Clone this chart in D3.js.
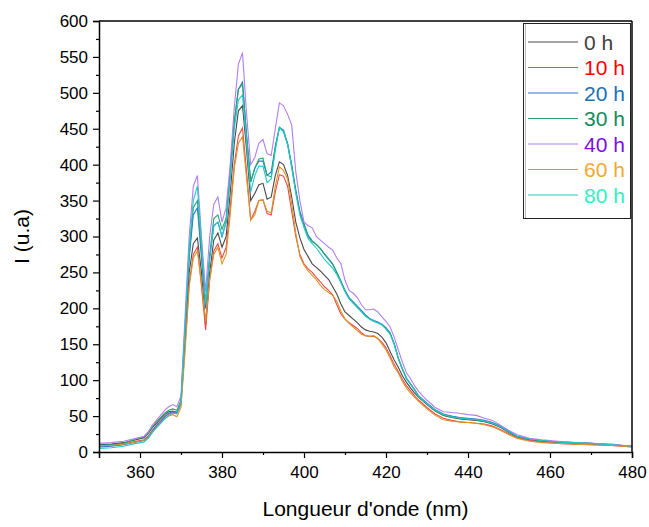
<!DOCTYPE html>
<html><head><meta charset="utf-8">
<script src="https://cdn.jsdelivr.net/npm/d3@7"></script>
<style>body{margin:0;background:#fff}svg{display:block;font-family:"Liberation Sans",Arial,sans-serif}</style>
</head><body><svg id="c" width="649" height="527"></svg>
<script>
const wavelength = [350,353,356,359,361,362,363,364,365,366,367,368,369,370,371,372,373,374,375,376,377,378,379,380,381,382,383,384,385,386,387,388,389,390,391,392,393,394,395,396,397,398,399,400,401,402,403,404,405,406,407,408,409,410,411,412,413,414,415,416,417,418,419,420,421,422,423,424,425,426,427,428,430,432,434,436,438,440,442,444,446,448,450,452,455,458,462,466,470,475,480];
const seriesNames = ["0 h","10 h","20 h","30 h","40 h","60 h","80 h"];
const h0  = [10,11,13,17,20,26,34,40,46,52,56,57,55,68,160,250,290,298,250,177,250,295,305,285,300,360,430,475,482,420,350,360,372,374,352,355,385,404,400,385,355,320,298,282,272,262,257,252,246,240,230,220,206,195,190,185,180,174,170,168,167,165,160,152,140,128,118,106,97,89,82,76,66,57,51,48,46,45,44,42,39,34,27,21,17,15,13,12,11,10,8];
const h10 = [8,9,11,15,17,22,30,37,43,49,53,55,54,66,150,235,275,285,230,170,240,280,290,270,285,340,400,440,451,390,323,335,350,351,332,330,362,386,384,370,335,300,275,262,255,250,243,237,230,225,219,205,192,185,180,176,172,166,162,161,161,158,153,145,134,122,112,101,92,85,78,72,62,53,47,44,42,41,40,39,36,31,25,20,16,14,12,11,10,9,7];
const h20 = [7,8,10,14,16,21,29,36,42,49,54,56,55,70,170,270,330,340,270,200,270,315,320,300,320,390,460,505,515,440,376,395,405,405,385,390,425,452,448,430,400,365,335,318,302,294,289,283,276,269,262,250,238,225,215,209,203,197,191,186,183,181,178,173,166,151,131,116,103,95,87,78,68,59,53,50,48,47,46,44,41,36,29,22,18,16,14,13,12,10,8];
const h30 = [9,10,12,18,21,27,35,42,48,54,58,60,58,72,175,275,340,350,280,205,275,325,330,310,325,390,460,505,512,440,376,395,408,409,385,383,425,452,446,428,398,362,333,316,300,293,289,283,275,268,261,250,237,224,214,208,202,196,190,185,182,180,177,172,165,150,130,115,102,94,86,77,67,58,52,49,47,46,45,43,40,35,28,22,18,16,14,13,12,10,8];
const h40 = [12,13,15,19,22,28,37,44,51,58,63,66,63,78,190,300,370,385,300,223,300,345,355,320,340,400,480,540,556,470,400,410,430,435,415,413,450,486,482,470,455,390,350,320,315,312,300,295,290,285,281,270,262,239,225,221,215,205,198,198,199,195,188,182,174,160,142,125,110,102,92,84,72,62,56,55,54,52,51,47,44,37,30,24,19,17,15,13,12,11,8];
const h60 = [9,9,11,14,16,20,28,34,40,46,50,52,49,62,140,230,270,280,235,181,240,275,285,262,275,330,395,430,439,380,323,330,350,351,335,333,370,397,392,380,345,305,272,260,252,246,240,232,226,222,218,210,196,185,179,174,169,164,162,161,162,158,150,142,131,118,110,98,89,82,76,70,60,51,45,43,42,41,40,38,35,30,24,19,15,13,12,11,10,9,7];
const h80 = [5,6,8,12,14,19,27,34,40,46,51,54,53,70,175,285,350,370,290,207,270,315,320,300,320,380,450,490,497,430,362,385,398,398,375,380,420,452,446,428,396,360,330,312,297,290,284,276,268,262,256,247,236,223,213,207,201,195,189,185,182,180,177,171,164,150,130,115,102,94,86,77,67,58,52,49,47,46,45,43,40,35,28,22,18,16,14,13,12,10,8];
const seriesValues = [h0,h10,h20,h30,h40,h60,h80];
const lineColors = ["#4a4a4a","#f04848","#2f6fe0","#22a86a","#b27ef0","#d4962a","#20c8c8"];
const textColors = ["#404040","#ff0000","#1a6fb5","#148a5a","#7a10e0","#f0a830","#30f0c0"];
const xTicks = [360,380,400,420,440,460,480];
const yTicks = [0,50,100,150,200,250,300,350,400,450,500,550,600];

const svg = d3.select("#c");
const L=99,R=632,T=21,B=452;
const x = d3.scaleLinear().domain([350,480]).range([L,R]);
const y = d3.scaleLinear().domain([0,600]).range([B,T]);

const plot = svg.append("g");
plot.append("defs").append("clipPath").attr("id","cp").append("rect").attr("x",L).attr("y",T).attr("width",R-L).attr("height",B-T);
const line = d3.line().x((d,i)=>x(wavelength[i])).y(d=>y(d));
seriesValues.forEach((s,k)=>{
  plot.append("path").attr("d",line(s)).attr("fill","none").attr("stroke",lineColors[k]).attr("stroke-width",1.1).attr("clip-path","url(#cp)");
});

// frame
svg.append("line").attr("x1",L).attr("x2",R).attr("y1",T).attr("y2",T).attr("stroke","#000").attr("stroke-width",1.5);
svg.append("line").attr("x1",R).attr("x2",R).attr("y1",T).attr("y2",B).attr("stroke","#000").attr("stroke-width",1.5);

// x axis
svg.append("g").attr("transform",`translate(0,${B})`)
  .call(d3.axisBottom(x).tickValues(xTicks).tickSize(6).tickPadding(8).tickFormat(d3.format("d")));
svg.append("g").attr("transform",`translate(0,${B})`)
  .call(d3.axisBottom(x).tickValues(d3.range(350,481,10).filter(v=>v%20!==0)).tickSize(3).tickFormat(""))
  .select(".domain").remove();
svg.append("g").attr("transform",`translate(${L},0)`)
  .call(d3.axisLeft(y).tickValues(yTicks).tickSize(6).tickPadding(5));
svg.append("g").attr("transform",`translate(${L},0)`)
  .call(d3.axisLeft(y).tickValues(d3.range(25,600,50)).tickSize(3).tickFormat(""))
  .select(".domain").remove();
svg.selectAll(".domain").attr("stroke-width",1.5).attr("stroke","#000");
svg.selectAll(".tick line").attr("stroke","#000").attr("stroke-width",1.2);
svg.selectAll(".tick text").attr("font-size",17).attr("fill","#000").attr("font-family","Liberation Sans, Arial, sans-serif");

svg.append("text").attr("x",(L+R)/2).attr("y",516).attr("text-anchor","middle").attr("font-size",21).text("Longueur d'onde (nm)");
svg.append("text").attr("transform",`translate(29,${(T+B)/2}) rotate(-90)`).attr("text-anchor","middle").attr("font-size",21).text("I (u.a)");

// legend
const lg = svg.append("g");
lg.append("rect").attr("x",523.5).attr("y",23.5).attr("width",107).attr("height",195).attr("fill","#fff").attr("stroke","#222").attr("stroke-width",1);
lg.append("line").attr("x1",525.5).attr("x2",525.5).attr("y1",24).attr("y2",218).attr("stroke","#bbb");
seriesNames.forEach((n,k)=>{
  const yy = 42 + k*25.5;
  lg.append("line").attr("x1",528).attr("x2",578).attr("y1",yy).attr("y2",yy).attr("stroke",lineColors[k]).attr("stroke-width",1.2);
  lg.append("text").attr("x",584).attr("y",yy+7.5).attr("font-size",21).attr("fill",textColors[k]).text(n);
});
</script></body></html>
